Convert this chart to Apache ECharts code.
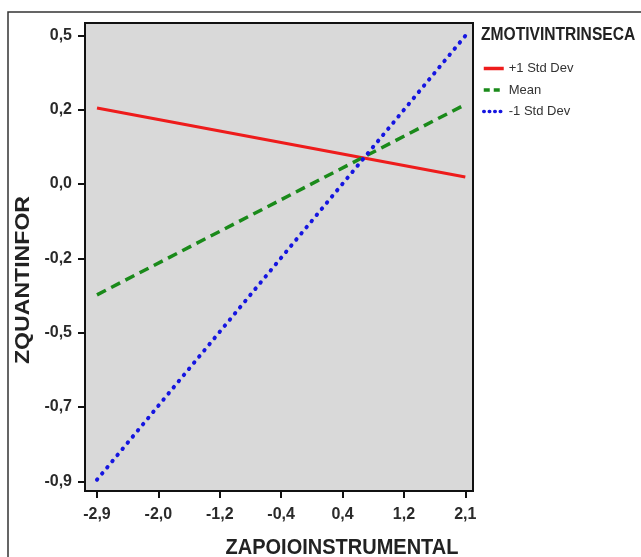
<!DOCTYPE html>
<html><head><meta charset="utf-8">
<script src="https://cdn.jsdelivr.net/npm/echarts@6/dist/echarts.min.js"></script>
<style>html,body{margin:0;padding:0;background:#fff}#c{width:641px;height:557px}</style>
</head><body><div id="c"></div>
<script>
// Tick positions (evenly spaced, as in the SPSS output) and their printed labels
const xTickValues = [-2.86, -2.04, -1.22, -0.40, 0.42, 1.24, 2.06];
const xTickLabels = ['-2,9', '-2,0', '-1,2', '-0,4', '0,4', '1,2', '2,1'];
const yTickValues = [-0.94, -0.706, -0.472, -0.238, -0.004, 0.23, 0.464];
const yTickLabels = ['-0,9', '-0,7', '-0,5', '-0,2', '0,0', '0,2', '0,5'];

// Simple slopes: ZQUANTINFOR vs ZAPOIOINSTRUMENTAL for levels of ZMOTIVINTRINSECA
const xValues = [-2.86, 2.06];
const plusOneSD = [0.235, 0.018];
const meanVals = [-0.353, 0.246];
const minusOneSD = [-0.935, 0.462];
const seriesNames = ['+1 Std Dev', 'Mean', '-1 Std Dev'];

function labelFor(vals, labs) {
  return function (v) {
    for (let i = 0; i < vals.length; i++) if (Math.abs(v - vals[i]) < 1e-6) return labs[i];
    return '';
  };
}
const pairs = ys => xValues.map((x, i) => [x, ys[i]]);

const chart = echarts.init(document.getElementById('c'), null, {renderer: 'canvas'});
const tickFont = {fontFamily: 'Liberation Sans', fontWeight: 'bold', fontSize: 16, color: '#2a2a2a'};
const noSym = {color: 'rgba(0,0,0,0)', borderColor: 'rgba(0,0,0,0)', borderWidth: 0};
const legendLines = [
  {width: 3.5, type: 'solid'},
  {width: 3.5, type: [6, 4]},
  {width: 3.5, type: [0.5, 5], cap: 'round'}
];
chart.setOption({
  animation: false,
  backgroundColor: '#fff',
  grid: {left: 85, right: 168, top: 23, bottom: 66, show: true, backgroundColor: '#d9d9d9',
         borderColor: '#111', borderWidth: 2},
  xAxis: {
    type: 'value', min: -3.02, max: 2.163,
    splitLine: {show: false},
    axisLine: {show: true, onZero: false, lineStyle: {color: '#111', width: 2}},
    axisTick: {show: true, length: 7, lineStyle: {color: '#111', width: 2}, customValues: xTickValues},
    axisLabel: Object.assign({customValues: xTickValues, margin: 16, formatter: labelFor(xTickValues, xTickLabels)}, tickFont)
  },
  yAxis: {
    type: 'value', min: -0.9705, max: 0.5026,
    splitLine: {show: false},
    axisLine: {show: true, onZero: false, lineStyle: {color: '#111', width: 2}},
    axisTick: {show: true, length: 7, lineStyle: {color: '#111', width: 2}, customValues: yTickValues},
    axisLabel: Object.assign({customValues: yTickValues, margin: 13, formatter: labelFor(yTickValues, yTickLabels)}, tickFont)
  },
  legend: {
    orient: 'vertical', left: 477, top: 57, itemWidth: 20, itemHeight: 14, itemGap: 8.5,
    data: seriesNames.map((n, i) => ({name: n, itemStyle: noSym, lineStyle: legendLines[i]})),
    itemStyle: noSym,
    textStyle: {fontFamily: 'Liberation Sans', fontSize: 13, color: '#333'}
  },
  series: [
    {name: seriesNames[0], type: 'line', data: pairs(plusOneSD), symbol: 'none', color: '#ee1c1c',
     lineStyle: {color: '#ee1c1c', width: 3}},
    {name: seriesNames[1], type: 'line', data: pairs(meanVals), symbol: 'none', color: '#1a8a1a',
     lineStyle: {color: '#1a8a1a', width: 3.5, type: [10, 6]}},
    {name: seriesNames[2], type: 'line', data: pairs(minusOneSD), symbol: 'none', color: '#1515e0',
     lineStyle: {color: '#1515e0', width: 4, type: [0.5, 7.5], cap: 'round'}}
  ],
  graphic: [
    {type: 'polyline', silent: true, shape: {points: [[8, 560], [8, 12], [645, 12]]},
     style: {stroke: '#333', lineWidth: 1.5, fill: null}},
    {type: 'text', x: 23.5, y: 280, rotation: Math.PI / 2, scaleX: 1.1, silent: true,
     style: {text: 'ZQUANTINFOR', fontFamily: 'Liberation Sans', fontWeight: 'bold', fontSize: 21,
             fill: '#222', align: 'center', verticalAlign: 'middle'}},
    {type: 'text', x: 342, y: 548, scaleY: 1.08, silent: true,
     style: {text: 'ZAPOIOINSTRUMENTAL', fontFamily: 'Liberation Sans', fontWeight: 'bold', fontSize: 20,
             fill: '#222', align: 'center', verticalAlign: 'middle'}},
    {type: 'text', x: 481, y: 35, scaleY: 1.12, silent: true,
     style: {text: 'ZMOTIVINTRINSECA', fontFamily: 'Liberation Sans', fontWeight: 'bold', fontSize: 15.6,
             fill: '#222', align: 'left', verticalAlign: 'middle'}}
  ]
});
</script>
</body></html>
